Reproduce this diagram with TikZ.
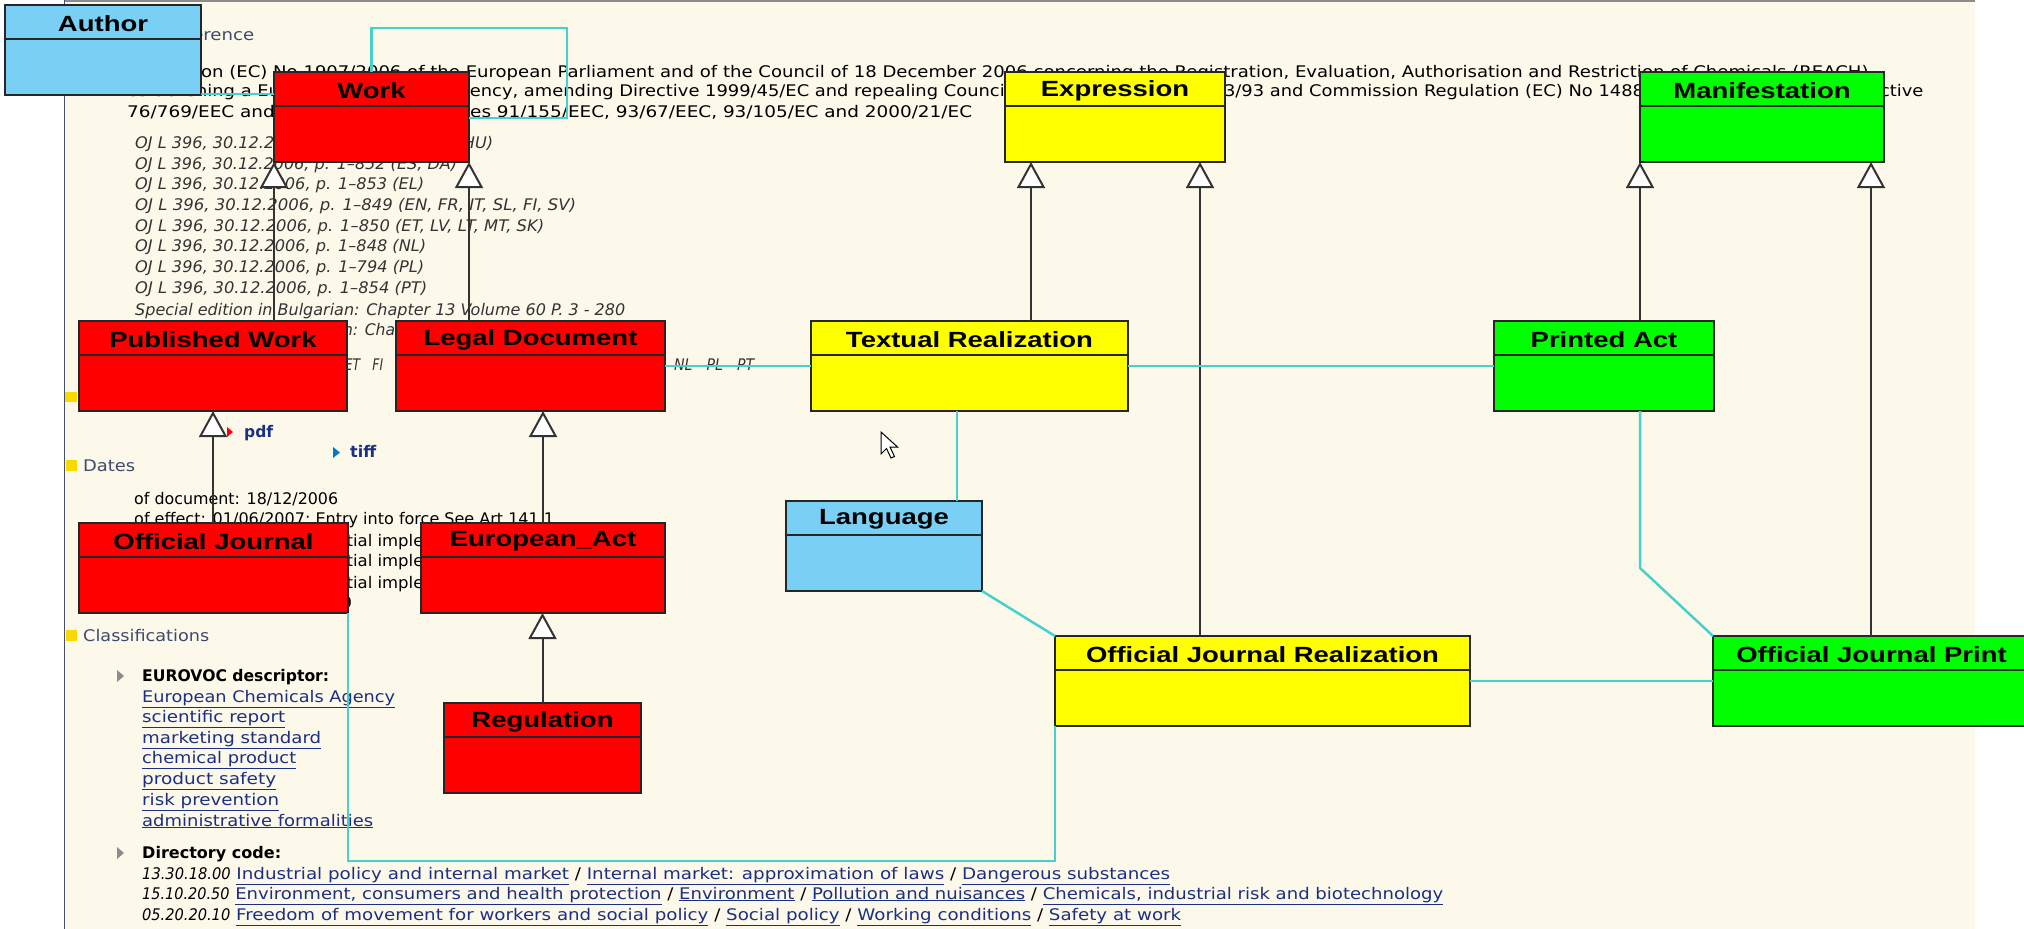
\documentclass[tikz,border=0pt]{standalone}
\usepackage{fontspec}
\usepackage{graphicx}
\usetikzlibrary{arrows.meta}
\newfontfamily\pagefont{DejaVu Sans}
\newfontfamily\umlfont{Liberation Sans}

\definecolor{pagebg}{RGB}{252,248,234}
\definecolor{umlred}{RGB}{255,0,0}
\definecolor{umlyellow}{RGB}{255,255,0}
\definecolor{umlgreen}{RGB}{0,255,0}
\definecolor{umlblue}{RGB}{122,207,245}
\definecolor{assoccol}{RGB}{72,209,204}
\definecolor{linkblue}{RGB}{28,48,130}
\definecolor{headgrey}{RGB}{62,74,110}
\definecolor{markyellow}{RGB}{248,218,0}
\definecolor{framegrey}{RGB}{70,80,110}

\tikzset{
  umlbox/.style={draw=black!85, line width=2pt, rectangle, inner sep=0pt, outer sep=0pt, minimum height=90pt},
  umllabel/.style={font=\umlfont\bfseries\fontsize{22}{26}\selectfont, inner sep=0pt},
  genarrow/.style={draw=black!80, line width=2pt, -{Triangle[length=26pt,width=28pt,fill=white]}},
  assoc/.style={draw=assoccol, line width=2.5pt},
  pagetxt/.style={anchor=base west, inner sep=0pt, font=\pagefont\fontsize{16}{19}\selectfont},
  headtxt/.style={pagetxt, text=headgrey},
  linktxt/.style={pagetxt, text=linkblue},
}

% text of the page, stretched to the width it has on screen
\newcommand\ptxt[6][]{\node[pagetxt,#1] (#2) at (#3,#4) {\resizebox{#5pt}{\height}{#6}};}
% directory code in front of the links
\newcommand\dircode[1]{{\color{black}\scalebox{0.8}[1]{\itshape #1}}}
% class box: name, x, y, width, fill, label
\newcommand\umlclass[6]{%
  \node[umlbox, fill=#5, minimum width=#4pt, anchor=north west] (#1) at (#2,#3) {};
  \draw[black!85, line width=2pt] ([yshift=-34pt]#1.north west) -- ([yshift=-34pt]#1.north east);
  \node[umllabel] (#1-label) at ([yshift=-18.5pt]#1.north) {\scalebox{1.25}[1]{#6}};
}

\begin{document}
\begin{tikzpicture}[x=1pt,y=-1pt]
\useasboundingbox (0,0) rectangle (2024,929);
\fill[white] (0,0) rectangle (2024,929);
\fill[pagebg] (64,2) rectangle (1975,929);
\draw[black!45, line width=2pt] (64,1) -- (1975,1);
\draw[framegrey, line width=1.5pt] (64.5,0) -- (64.5,929);

% the page behind the diagram
\ptxt[headtxt]{head1}{83}{40}{171}{Title and reference}
\ptxt{t1}{127}{77}{1747}{Regulation (EC) No 1907/2006 of the European Parliament and of the Council of 18 December 2006 concerning the Registration, Evaluation, Authorisation and Restriction of Chemicals (REACH),}
\ptxt{t2}{127}{96}{1796}{establishing a European Chemicals Agency, amending Directive 1999/45/EC and repealing Council Regulation (EEC) No 793/93 and Commission Regulation (EC) No 1488/94 as well as Council Directive}
\ptxt{t3}{127}{117}{845}{76/769/EEC and Commission Directives 91/155/EEC, 93/67/EEC, 93/105/EC and 2000/21/EC}
\ptxt[text=black!80]{o1}{135}{148}{358}{\itshape OJ L 396, 30.12.2006, p. 1–851 (CS, DE, HU)}
\ptxt[text=black!80]{o2}{135}{169}{322}{\itshape OJ L 396, 30.12.2006, p. 1–852 (ES, DA)}
\ptxt[text=black!80]{o3}{135}{189}{289}{\itshape OJ L 396, 30.12.2006, p. 1–853 (EL)}
\ptxt[text=black!80]{o4}{135}{210}{441}{\itshape OJ L 396, 30.12.2006, p. 1–849 (EN, FR, IT, SL, FI, SV)}
\ptxt[text=black!80]{o5}{135}{231}{409}{\itshape OJ L 396, 30.12.2006, p. 1–850 (ET, LV, LT, MT, SK)}
\ptxt[text=black!80]{o6}{135}{251}{291}{\itshape OJ L 396, 30.12.2006, p. 1–848 (NL)}
\ptxt[text=black!80]{o7}{135}{272}{289}{\itshape OJ L 396, 30.12.2006, p. 1–794 (PL)}
\ptxt[text=black!80]{o8}{135}{293}{292}{\itshape OJ L 396, 30.12.2006, p. 1–854 (PT)}
\ptxt[text=black!80]{o9}{135}{315}{490}{\itshape Special edition in Bulgarian: Chapter 13 Volume 60 P. 3 - 280}
\ptxt[text=black!80]{o10}{135}{335}{482}{\itshape Special edition in Romanian: Chapter 13 Volume 60 P. 3 - 280}
\ptxt[text=black!80]{o11}{141}{370}{270}{\itshape BG\quad CS\quad DA\quad DE\quad EL\quad EN\quad ES\quad ET\quad FI\quad FR}
\ptxt[text=black!80]{o12}{674}{370}{80}{\itshape NL\quad PL\quad PT}
\fill[markyellow] (65,392) rectangle (77,402);
\fill[umlred] (227,427) -- (227,437) -- (233,432) -- cycle;
\ptxt[linktxt]{pdf}{244}{437}{29}{\bfseries pdf}
\fill[blue!40!cyan!80!black] (333,447) -- (333,458) -- (340,452.5) -- cycle;
\ptxt[linktxt]{tiff}{350}{457}{26}{\bfseries tiff}
\fill[markyellow] (66,460) rectangle (77,471);
\ptxt[headtxt]{head2}{83}{471}{52}{Dates}
\ptxt{d1}{134}{504}{204}{of document: 18/12/2006}
\ptxt{d2}{134}{524}{420}{of effect: 01/06/2007; Entry into force See Art 141.1}
\ptxt{d3}{134}{546}{492}{of effect: 01/06/2008; Partial implementation See Art 141.2}
\ptxt{d4}{134}{566}{492}{of effect: 01/06/2007; Partial implementation See Art 141.3}
\ptxt{d5}{134}{588}{492}{of effect: 01/06/2009; Partial implementation See Art 141.4}
\ptxt{d6}{134}{608}{218}{end of validity: 99/99/9999}
\fill[markyellow] (66,630) rectangle (77,641);
\ptxt[headtxt]{head3}{83}{641}{126}{Classifications}
\fill[black!45] (117,670) -- (117,682) -- (124,676) -- cycle;
\ptxt{eurovoc}{142}{681}{187}{\bfseries EUROVOC descriptor:}
\ptxt[linktxt]{l1}{142}{702}{253}{\underline{European Chemicals Agency}}
\ptxt[linktxt]{l2}{142}{722}{143}{\underline{scientific report}}
\ptxt[linktxt]{l3}{142}{743}{179}{\underline{marketing standard}}
\ptxt[linktxt]{l4}{142}{763}{154}{\underline{chemical product}}
\ptxt[linktxt]{l5}{142}{784}{134}{\underline{product safety}}
\ptxt[linktxt]{l6}{142}{805}{137}{\underline{risk prevention}}
\ptxt[linktxt]{l7}{142}{826}{231}{\underline{administrative formalities}}
\fill[black!45] (117,847) -- (117,859) -- (124,853) -- cycle;
\ptxt{dirhead}{142}{858}{139}{\bfseries Directory code:}
\ptxt[linktxt]{dir1}{142}{879}{1028}{\dircode{13.30.18.00} \underline{Industrial policy and internal market} {\color{black}/} \underline{Internal market: approximation of laws} {\color{black}/} \underline{Dangerous substances}}
\ptxt[linktxt]{dir2}{142}{899}{1301}{\dircode{15.10.20.50} \underline{Environment, consumers and health protection} {\color{black}/} \underline{Environment} {\color{black}/} \underline{Pollution and nuisances} {\color{black}/} \underline{Chemicals, industrial risk and biotechnology}}
\ptxt[linktxt]{dir3}{142}{920}{1039}{\dircode{05.20.20.10} \underline{Freedom of movement for workers and social policy} {\color{black}/} \underline{Social policy} {\color{black}/} \underline{Working conditions} {\color{black}/} \underline{Safety at work}}
\filldraw[fill=white, draw=black, line width=1pt] (881,432) -- (881,454) -- (886.5,448.5) -- (891,458) -- (894.5,456.5) -- (890,447) -- (897.5,447) -- cycle;

% classes
\umlclass{author}{5}{5}{196}{umlblue}{Author}
\umlclass{work}{274}{72}{195}{umlred}{Work}
\umlclass{expression}{1005}{72}{220}{umlyellow}{Expression}
\umlclass{manif}{1640}{72}{244}{umlgreen}{Manifestation}
\umlclass{pubwork}{79}{321}{268}{umlred}{Published Work}
\umlclass{legaldoc}{396}{321}{269}{umlred}{Legal Document}
\umlclass{textreal}{811}{321}{317}{umlyellow}{Textual Realization}
\umlclass{printact}{1494}{321}{220}{umlgreen}{Printed Act}
\umlclass{language}{786}{501}{196}{umlblue}{Language}
\umlclass{oj}{79}{523}{269}{umlred}{Official Journal}
\umlclass{euact}{421}{523}{244}{umlred}{European\_Act}
\umlclass{ojreal}{1055}{636}{415}{umlyellow}{Official Journal Realization}
\umlclass{ojprint}{1713}{636}{317}{umlgreen}{Official Journal Print}
\umlclass{regul}{444}{703}{197}{umlred}{Regulation}

% generalizations
\draw[genarrow] (pubwork.north -| work.south west) -- (work.south west);
\draw[genarrow] (legaldoc.north -| work.south east) -- (work.south east);
\draw[genarrow] (oj.north -| pubwork.south) -- (pubwork.south);
\draw[genarrow] (euact.north) -- (euact.north |- legaldoc.south);
\draw[genarrow] (regul.north) -- (regul.north |- euact.south);
\draw[genarrow] (textreal.north -| 1031,0) -- (expression.south -| 1031,0);
\draw[genarrow] (ojreal.north -| 1200,0) -- (expression.south -| 1200,0);
\draw[genarrow] (printact.north -| manif.south west) -- (manif.south west);
\draw[genarrow] (ojprint.north -| 1871,0) -- (manif.south -| 1871,0);

% associations
\coordinate (pa-bend) at (1640,568);
\coordinate (oj-bend) at (1055,861);
\draw[assoc] (author.east |- 0,94) -- (work.west |- 0,94);
\draw[assoc] (work.north) |- (567,28) |- ([yshift=-46pt]work.north east);
\draw[assoc] (legaldoc.east) -- (textreal.west);
\draw[assoc] (textreal.east) -- (printact.west);
\draw[assoc] (textreal.south -| 957,0) -- (language.north -| 957,0);
\draw[assoc] (language.south east) -- (ojreal.north west);
\draw[assoc] (ojreal.east) -- (ojprint.west);
\draw[assoc] (printact.south -| pa-bend) -- (pa-bend) -- (ojprint.north west);
\draw[assoc] (oj.south east) |- (oj-bend) -- (ojreal.south west);
\end{tikzpicture}
\end{document}
